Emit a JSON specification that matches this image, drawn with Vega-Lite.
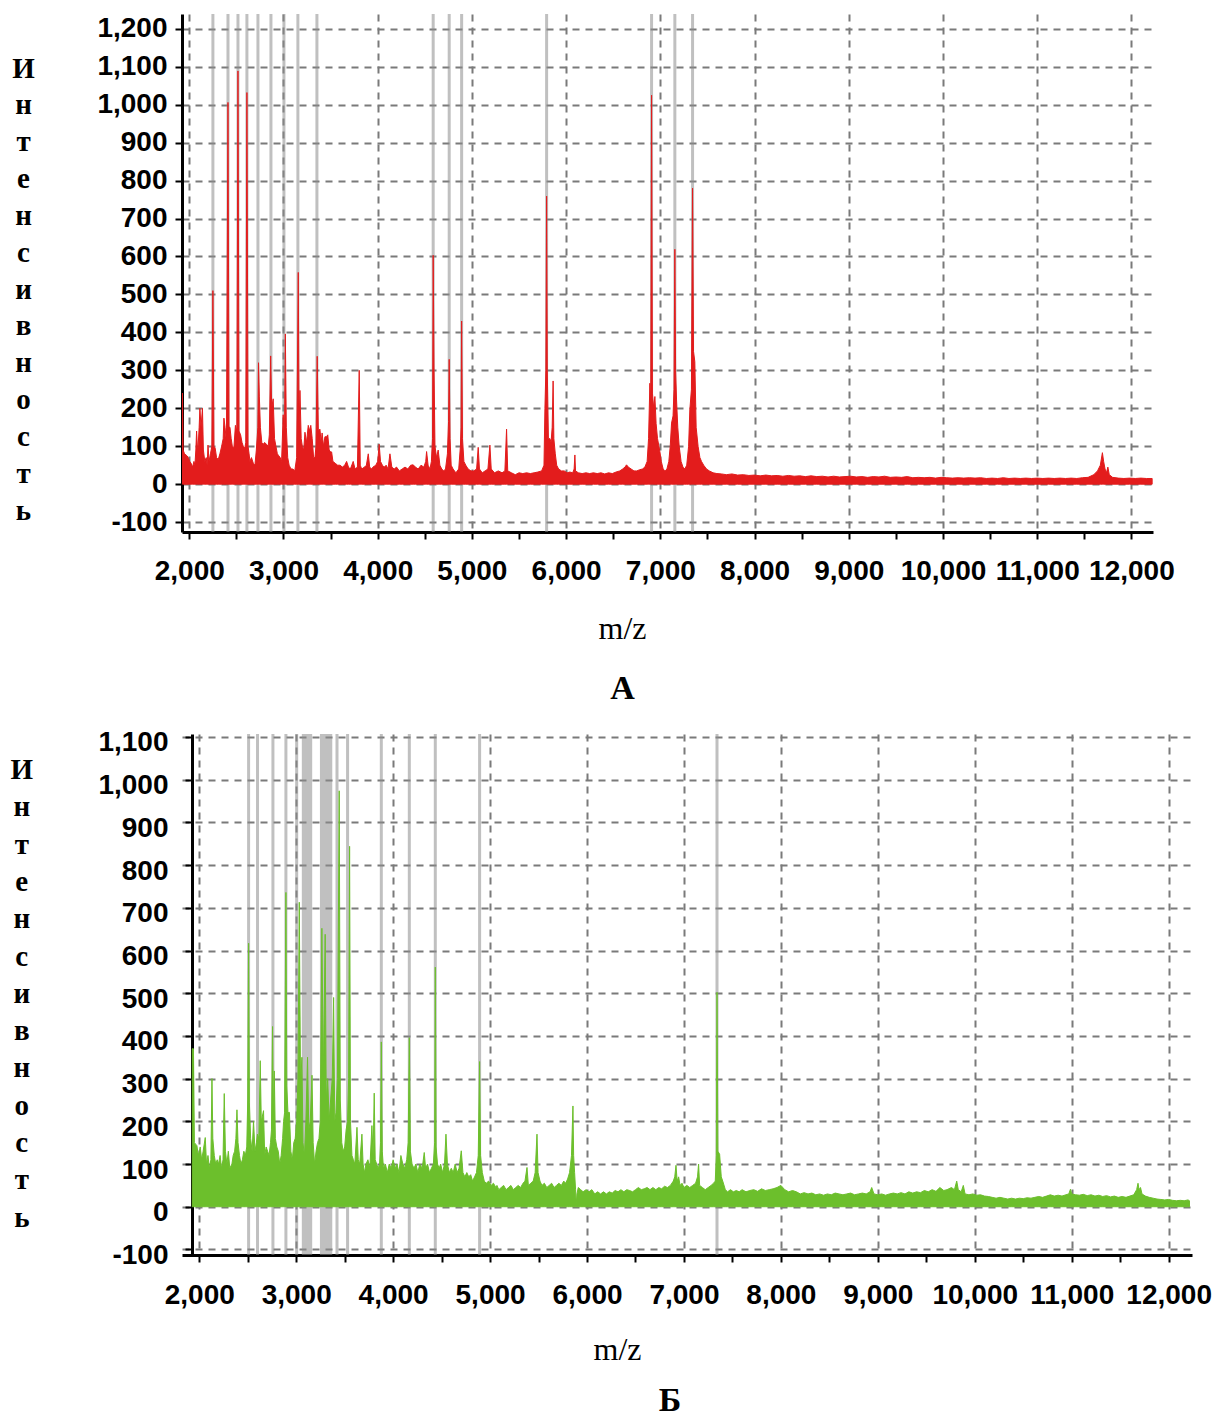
{
"$schema": "https://vega.github.io/schema/vega-lite/v6.json",
"background": "white",
"padding": {"left": 10, "top": 12, "right": 5, "bottom": 0},
"config": {
  "view": {"stroke": null},
  "axis": {"labelFont": "Liberation Sans", "labelFontWeight": "bold", "labelFontSize": 28, "labelColor": "#000", "domainColor": "#000", "domainWidth": 3, "tickColor": "#000", "tickWidth": 2, "gridColor": "#7a7a7a", "gridWidth": 2, "gridDash": [7, 6], "labelOverlap": false, "labelFlush": false, "titleColor": "#000"}
},
"datasets": {
  "markA": [{"mz":2251},{"mz":2411},{"mz":2517},{"mz":2612},{"mz":2729},{"mz":2867},{"mz":3005},{"mz":3153},{"mz":3355},{"mz":4589},{"mz":4759},{"mz":4891},{"mz":5793},{"mz":6907},{"mz":7154},{"mz":7342}],
  "markB": [{"mz":2509},{"mz":2601},{"mz":2760},{"mz":2894},{"mz":3005},{"mz":3421},{"mz":3530},{"mz":3878},{"mz":4167},{"mz":4435},{"mz":4892},{"mz":7341}],
  "bandB": [{"start":3058,"end":3165},{"start":3245,"end":3372}],
  "specA": [{"mz":1928,"i":240},{"mz":1935,"i":90},{"mz":1950,"i":80},{"mz":1975,"i":75},{"mz":1990,"i":70},{"mz":2005,"i":60},{"mz":2020,"i":55},{"mz":2035,"i":45},{"mz":2050,"i":60},{"mz":2060,"i":50},{"mz":2070,"i":90},{"mz":2078,"i":140},{"mz":2090,"i":80},{"mz":2105,"i":150},{"mz":2113,"i":200},{"mz":2125,"i":150},{"mz":2140,"i":200},{"mz":2150,"i":90},{"mz":2165,"i":60},{"mz":2180,"i":70},{"mz":2190,"i":50},{"mz":2199,"i":103},{"mz":2210,"i":60},{"mz":2225,"i":80},{"mz":2240,"i":100},{"mz":2251,"i":510},{"mz":2262,"i":100},{"mz":2275,"i":95},{"mz":2290,"i":70},{"mz":2308,"i":65},{"mz":2325,"i":80},{"mz":2344,"i":100},{"mz":2360,"i":120},{"mz":2368,"i":174},{"mz":2380,"i":150},{"mz":2395,"i":110},{"mz":2411,"i":1006},{"mz":2422,"i":150},{"mz":2432,"i":150},{"mz":2445,"i":120},{"mz":2460,"i":95},{"mz":2475,"i":100},{"mz":2490,"i":155},{"mz":2505,"i":140},{"mz":2517,"i":1089},{"mz":2528,"i":140},{"mz":2545,"i":130},{"mz":2560,"i":110},{"mz":2573,"i":100},{"mz":2590,"i":95},{"mz":2600,"i":110},{"mz":2612,"i":1032},{"mz":2624,"i":100},{"mz":2635,"i":80},{"mz":2644,"i":60},{"mz":2660,"i":70},{"mz":2680,"i":55},{"mz":2697,"i":50},{"mz":2712,"i":90},{"mz":2728,"i":150},{"mz":2735,"i":320},{"mz":2744,"i":230},{"mz":2755,"i":150},{"mz":2770,"i":110},{"mz":2785,"i":105},{"mz":2800,"i":110},{"mz":2820,"i":105},{"mz":2838,"i":100},{"mz":2850,"i":130},{"mz":2864,"i":338},{"mz":2875,"i":200},{"mz":2891,"i":225},{"mz":2905,"i":120},{"mz":2920,"i":100},{"mz":2935,"i":80},{"mz":2950,"i":75},{"mz":2965,"i":70},{"mz":2980,"i":60},{"mz":2997,"i":183},{"mz":3010,"i":110},{"mz":3020,"i":396},{"mz":3030,"i":150},{"mz":3045,"i":70},{"mz":3060,"i":50},{"mz":3080,"i":40},{"mz":3100,"i":40},{"mz":3120,"i":35},{"mz":3140,"i":70},{"mz":3157,"i":558},{"mz":3166,"i":150},{"mz":3175,"i":247},{"mz":3188,"i":120},{"mz":3200,"i":100},{"mz":3215,"i":90},{"mz":3228,"i":137},{"mz":3245,"i":110},{"mz":3263,"i":155},{"mz":3278,"i":140},{"mz":3290,"i":155},{"mz":3305,"i":120},{"mz":3320,"i":70},{"mz":3334,"i":70},{"mz":3345,"i":100},{"mz":3358,"i":337},{"mz":3370,"i":140},{"mz":3387,"i":145},{"mz":3400,"i":110},{"mz":3410,"i":135},{"mz":3425,"i":100},{"mz":3440,"i":125},{"mz":3458,"i":125},{"mz":3470,"i":130},{"mz":3485,"i":90},{"mz":3500,"i":85},{"mz":3511,"i":85},{"mz":3525,"i":60},{"mz":3550,"i":55},{"mz":3575,"i":50},{"mz":3600,"i":50},{"mz":3625,"i":45},{"mz":3650,"i":50},{"mz":3670,"i":60},{"mz":3690,"i":45},{"mz":3710,"i":40},{"mz":3740,"i":60},{"mz":3760,"i":40},{"mz":3785,"i":45},{"mz":3804,"i":300},{"mz":3815,"i":50},{"mz":3830,"i":40},{"mz":3860,"i":45},{"mz":3880,"i":50},{"mz":3900,"i":80},{"mz":3915,"i":45},{"mz":3935,"i":40},{"mz":3950,"i":45},{"mz":3980,"i":50},{"mz":4000,"i":60},{"mz":4016,"i":105},{"mz":4030,"i":60},{"mz":4050,"i":50},{"mz":4070,"i":45},{"mz":4090,"i":50},{"mz":4110,"i":40},{"mz":4130,"i":80},{"mz":4150,"i":45},{"mz":4175,"i":40},{"mz":4200,"i":45},{"mz":4230,"i":35},{"mz":4260,"i":40},{"mz":4290,"i":45},{"mz":4320,"i":40},{"mz":4350,"i":50},{"mz":4377,"i":51},{"mz":4400,"i":45},{"mz":4430,"i":40},{"mz":4460,"i":50},{"mz":4490,"i":45},{"mz":4510,"i":60},{"mz":4519,"i":86},{"mz":4535,"i":50},{"mz":4555,"i":40},{"mz":4570,"i":60},{"mz":4582,"i":120},{"mz":4589,"i":603},{"mz":4598,"i":300},{"mz":4608,"i":100},{"mz":4625,"i":70},{"mz":4642,"i":90},{"mz":4660,"i":50},{"mz":4680,"i":40},{"mz":4700,"i":35},{"mz":4720,"i":40},{"mz":4740,"i":80},{"mz":4752,"i":165},{"mz":4759,"i":329},{"mz":4768,"i":120},{"mz":4780,"i":50},{"mz":4800,"i":40},{"mz":4830,"i":30},{"mz":4860,"i":40},{"mz":4878,"i":100},{"mz":4885,"i":150},{"mz":4891,"i":430},{"mz":4900,"i":120},{"mz":4915,"i":60},{"mz":4935,"i":50},{"mz":4960,"i":40},{"mz":4990,"i":35},{"mz":5020,"i":35},{"mz":5050,"i":40},{"mz":5067,"i":97},{"mz":5080,"i":40},{"mz":5110,"i":30},{"mz":5140,"i":35},{"mz":5170,"i":40},{"mz":5191,"i":103},{"mz":5205,"i":40},{"mz":5240,"i":30},{"mz":5280,"i":35},{"mz":5320,"i":30},{"mz":5350,"i":35},{"mz":5368,"i":145},{"mz":5380,"i":35},{"mz":5420,"i":30},{"mz":5460,"i":25},{"mz":5500,"i":30},{"mz":5540,"i":28},{"mz":5580,"i":30},{"mz":5620,"i":28},{"mz":5660,"i":30},{"mz":5700,"i":32},{"mz":5740,"i":35},{"mz":5765,"i":50},{"mz":5775,"i":200},{"mz":5785,"i":300},{"mz":5793,"i":759},{"mz":5800,"i":300},{"mz":5812,"i":120},{"mz":5828,"i":120},{"mz":5840,"i":110},{"mz":5852,"i":150},{"mz":5862,"i":272},{"mz":5870,"i":120},{"mz":5885,"i":80},{"mz":5900,"i":50},{"mz":5920,"i":40},{"mz":5950,"i":35},{"mz":5980,"i":35},{"mz":6010,"i":30},{"mz":6040,"i":32},{"mz":6070,"i":30},{"mz":6085,"i":40},{"mz":6093,"i":77},{"mz":6100,"i":35},{"mz":6130,"i":30},{"mz":6170,"i":28},{"mz":6210,"i":30},{"mz":6250,"i":28},{"mz":6290,"i":30},{"mz":6330,"i":28},{"mz":6370,"i":30},{"mz":6410,"i":27},{"mz":6450,"i":30},{"mz":6490,"i":28},{"mz":6530,"i":32},{"mz":6570,"i":35},{"mz":6600,"i":40},{"mz":6625,"i":45},{"mz":6641,"i":51},{"mz":6660,"i":45},{"mz":6690,"i":40},{"mz":6720,"i":35},{"mz":6750,"i":35},{"mz":6780,"i":38},{"mz":6810,"i":40},{"mz":6836,"i":45},{"mz":6860,"i":60},{"mz":6875,"i":120},{"mz":6889,"i":266},{"mz":6898,"i":200},{"mz":6907,"i":1025},{"mz":6916,"i":240},{"mz":6930,"i":200},{"mz":6942,"i":231},{"mz":6955,"i":160},{"mz":6970,"i":120},{"mz":6985,"i":100},{"mz":6995,"i":86},{"mz":7010,"i":60},{"mz":7030,"i":40},{"mz":7050,"i":35},{"mz":7070,"i":40},{"mz":7090,"i":60},{"mz":7105,"i":100},{"mz":7119,"i":161},{"mz":7135,"i":180},{"mz":7145,"i":250},{"mz":7154,"i":619},{"mz":7162,"i":300},{"mz":7172,"i":222},{"mz":7185,"i":150},{"mz":7200,"i":100},{"mz":7220,"i":60},{"mz":7240,"i":45},{"mz":7260,"i":40},{"mz":7280,"i":50},{"mz":7300,"i":100},{"mz":7313,"i":196},{"mz":7330,"i":250},{"mz":7342,"i":780},{"mz":7352,"i":350},{"mz":7366,"i":323},{"mz":7380,"i":150},{"mz":7401,"i":99},{"mz":7420,"i":70},{"mz":7437,"i":60},{"mz":7460,"i":50},{"mz":7490,"i":40},{"mz":7520,"i":35},{"mz":7560,"i":30},{"mz":7600,"i":28},{"mz":7650,"i":27},{"mz":7700,"i":25},{"mz":7760,"i":27},{"mz":7820,"i":24},{"mz":7880,"i":25},{"mz":7940,"i":23},{"mz":8000,"i":24},{"mz":8060,"i":22},{"mz":8120,"i":24},{"mz":8180,"i":22},{"mz":8240,"i":23},{"mz":8300,"i":21},{"mz":8360,"i":23},{"mz":8420,"i":21},{"mz":8480,"i":22},{"mz":8540,"i":20},{"mz":8600,"i":22},{"mz":8660,"i":20},{"mz":8720,"i":21},{"mz":8780,"i":19},{"mz":8840,"i":21},{"mz":8900,"i":19},{"mz":8960,"i":20},{"mz":9020,"i":21},{"mz":9080,"i":19},{"mz":9140,"i":20},{"mz":9200,"i":18},{"mz":9260,"i":20},{"mz":9320,"i":19},{"mz":9380,"i":21},{"mz":9440,"i":18},{"mz":9500,"i":19},{"mz":9560,"i":18},{"mz":9620,"i":20},{"mz":9680,"i":17},{"mz":9740,"i":18},{"mz":9800,"i":17},{"mz":9860,"i":18},{"mz":9920,"i":16},{"mz":9980,"i":18},{"mz":10040,"i":17},{"mz":10100,"i":16},{"mz":10160,"i":17},{"mz":10220,"i":16},{"mz":10280,"i":17},{"mz":10340,"i":16},{"mz":10400,"i":17},{"mz":10460,"i":15},{"mz":10520,"i":16},{"mz":10580,"i":15},{"mz":10640,"i":17},{"mz":10700,"i":15},{"mz":10760,"i":16},{"mz":10820,"i":15},{"mz":10880,"i":16},{"mz":10940,"i":15},{"mz":11000,"i":16},{"mz":11060,"i":15},{"mz":11120,"i":16},{"mz":11180,"i":15},{"mz":11240,"i":16},{"mz":11300,"i":15},{"mz":11360,"i":16},{"mz":11420,"i":15},{"mz":11480,"i":17},{"mz":11540,"i":18},{"mz":11600,"i":25},{"mz":11640,"i":35},{"mz":11670,"i":50},{"mz":11692,"i":83},{"mz":11705,"i":60},{"mz":11720,"i":40},{"mz":11735,"i":30},{"mz":11750,"i":45},{"mz":11765,"i":25},{"mz":11800,"i":18},{"mz":11860,"i":16},{"mz":11920,"i":15},{"mz":11980,"i":16},{"mz":12040,"i":15},{"mz":12100,"i":16},{"mz":12160,"i":15},{"mz":12220,"i":15}],
  "specB": [{"mz":1928,"i":370},{"mz":1940,"i":370},{"mz":1950,"i":150},{"mz":1976,"i":143},{"mz":1990,"i":120},{"mz":2010,"i":140},{"mz":2025,"i":110},{"mz":2040,"i":130},{"mz":2062,"i":162},{"mz":2075,"i":100},{"mz":2090,"i":120},{"mz":2105,"i":90},{"mz":2120,"i":110},{"mz":2131,"i":300},{"mz":2140,"i":160},{"mz":2155,"i":120},{"mz":2170,"i":100},{"mz":2185,"i":110},{"mz":2199,"i":100},{"mz":2215,"i":120},{"mz":2230,"i":90},{"mz":2245,"i":110},{"mz":2258,"i":265},{"mz":2270,"i":130},{"mz":2285,"i":100},{"mz":2300,"i":130},{"mz":2315,"i":90},{"mz":2337,"i":100},{"mz":2350,"i":120},{"mz":2365,"i":130},{"mz":2378,"i":160},{"mz":2389,"i":227},{"mz":2400,"i":150},{"mz":2415,"i":120},{"mz":2430,"i":100},{"mz":2445,"i":110},{"mz":2460,"i":130},{"mz":2475,"i":120},{"mz":2490,"i":140},{"mz":2500,"i":250},{"mz":2509,"i":617},{"mz":2517,"i":245},{"mz":2530,"i":160},{"mz":2545,"i":130},{"mz":2560,"i":200},{"mz":2575,"i":130},{"mz":2590,"i":150},{"mz":2600,"i":170},{"mz":2615,"i":160},{"mz":2629,"i":342},{"mz":2640,"i":200},{"mz":2663,"i":225},{"mz":2675,"i":120},{"mz":2690,"i":140},{"mz":2705,"i":130},{"mz":2720,"i":120},{"mz":2735,"i":150},{"mz":2745,"i":180},{"mz":2756,"i":422},{"mz":2766,"i":200},{"mz":2774,"i":318},{"mz":2785,"i":160},{"mz":2800,"i":140},{"mz":2815,"i":130},{"mz":2830,"i":100},{"mz":2845,"i":120},{"mz":2860,"i":160},{"mz":2870,"i":200},{"mz":2880,"i":220},{"mz":2894,"i":736},{"mz":2903,"i":283},{"mz":2915,"i":220},{"mz":2930,"i":221},{"mz":2945,"i":130},{"mz":2960,"i":110},{"mz":2975,"i":150},{"mz":2990,"i":160},{"mz":3005,"i":200},{"mz":3018,"i":300},{"mz":3032,"i":713},{"mz":3045,"i":280},{"mz":3059,"i":350},{"mz":3070,"i":150},{"mz":3085,"i":120},{"mz":3100,"i":200},{"mz":3117,"i":350},{"mz":3130,"i":180},{"mz":3145,"i":200},{"mz":3163,"i":308},{"mz":3175,"i":150},{"mz":3190,"i":100},{"mz":3205,"i":130},{"mz":3220,"i":150},{"mz":3235,"i":160},{"mz":3248,"i":200},{"mz":3265,"i":652},{"mz":3280,"i":300},{"mz":3299,"i":638},{"mz":3310,"i":250},{"mz":3325,"i":300},{"mz":3340,"i":200},{"mz":3355,"i":250},{"mz":3372,"i":300},{"mz":3386,"i":490},{"mz":3398,"i":200},{"mz":3410,"i":220},{"mz":3425,"i":300},{"mz":3444,"i":974},{"mz":3455,"i":250},{"mz":3470,"i":150},{"mz":3485,"i":130},{"mz":3500,"i":140},{"mz":3515,"i":180},{"mz":3530,"i":200},{"mz":3541,"i":300},{"mz":3551,"i":844},{"mz":3560,"i":200},{"mz":3575,"i":120},{"mz":3590,"i":110},{"mz":3605,"i":100},{"mz":3627,"i":186},{"mz":3640,"i":110},{"mz":3655,"i":100},{"mz":3678,"i":170},{"mz":3690,"i":100},{"mz":3705,"i":80},{"mz":3720,"i":100},{"mz":3740,"i":110},{"mz":3760,"i":90},{"mz":3781,"i":190},{"mz":3793,"i":120},{"mz":3805,"i":266},{"mz":3815,"i":110},{"mz":3830,"i":100},{"mz":3845,"i":90},{"mz":3860,"i":100},{"mz":3870,"i":150},{"mz":3878,"i":386},{"mz":3888,"i":130},{"mz":3900,"i":90},{"mz":3920,"i":100},{"mz":3940,"i":80},{"mz":3960,"i":100},{"mz":3980,"i":90},{"mz":4000,"i":110},{"mz":4020,"i":90},{"mz":4040,"i":100},{"mz":4060,"i":80},{"mz":4080,"i":120},{"mz":4100,"i":100},{"mz":4120,"i":90},{"mz":4140,"i":110},{"mz":4155,"i":150},{"mz":4167,"i":396},{"mz":4178,"i":130},{"mz":4195,"i":100},{"mz":4215,"i":90},{"mz":4235,"i":100},{"mz":4255,"i":80},{"mz":4275,"i":100},{"mz":4300,"i":90},{"mz":4321,"i":127},{"mz":4335,"i":90},{"mz":4355,"i":100},{"mz":4375,"i":80},{"mz":4395,"i":90},{"mz":4415,"i":100},{"mz":4428,"i":150},{"mz":4435,"i":561},{"mz":4443,"i":140},{"mz":4458,"i":100},{"mz":4475,"i":90},{"mz":4490,"i":100},{"mz":4510,"i":80},{"mz":4530,"i":100},{"mz":4545,"i":170},{"mz":4560,"i":100},{"mz":4580,"i":80},{"mz":4600,"i":90},{"mz":4620,"i":80},{"mz":4640,"i":100},{"mz":4660,"i":80},{"mz":4680,"i":90},{"mz":4703,"i":131},{"mz":4720,"i":80},{"mz":4740,"i":70},{"mz":4760,"i":80},{"mz":4780,"i":70},{"mz":4800,"i":75},{"mz":4820,"i":60},{"mz":4840,"i":70},{"mz":4860,"i":80},{"mz":4878,"i":120},{"mz":4892,"i":340},{"mz":4902,"i":120},{"mz":4920,"i":80},{"mz":4940,"i":60},{"mz":4960,"i":55},{"mz":4985,"i":60},{"mz":5010,"i":50},{"mz":5035,"i":55},{"mz":5060,"i":45},{"mz":5071,"i":50},{"mz":5090,"i":40},{"mz":5115,"i":45},{"mz":5140,"i":50},{"mz":5165,"i":40},{"mz":5190,"i":45},{"mz":5215,"i":50},{"mz":5240,"i":40},{"mz":5265,"i":45},{"mz":5290,"i":50},{"mz":5315,"i":45},{"mz":5340,"i":55},{"mz":5360,"i":60},{"mz":5381,"i":92},{"mz":5395,"i":50},{"mz":5420,"i":55},{"mz":5445,"i":60},{"mz":5465,"i":80},{"mz":5484,"i":170},{"mz":5495,"i":80},{"mz":5515,"i":60},{"mz":5535,"i":50},{"mz":5560,"i":55},{"mz":5585,"i":45},{"mz":5610,"i":50},{"mz":5635,"i":55},{"mz":5660,"i":45},{"mz":5685,"i":50},{"mz":5710,"i":55},{"mz":5735,"i":50},{"mz":5760,"i":60},{"mz":5780,"i":55},{"mz":5800,"i":65},{"mz":5820,"i":80},{"mz":5840,"i":120},{"mz":5855,"i":236},{"mz":5862,"i":120},{"mz":5872,"i":80},{"mz":5882,"i":40},{"mz":5889,"i":5},{"mz":5896,"i":30},{"mz":5910,"i":45},{"mz":5935,"i":40},{"mz":5960,"i":35},{"mz":5990,"i":40},{"mz":6020,"i":35},{"mz":6050,"i":40},{"mz":6080,"i":30},{"mz":6110,"i":35},{"mz":6140,"i":30},{"mz":6170,"i":35},{"mz":6200,"i":30},{"mz":6230,"i":35},{"mz":6260,"i":32},{"mz":6290,"i":38},{"mz":6320,"i":35},{"mz":6350,"i":40},{"mz":6380,"i":35},{"mz":6410,"i":40},{"mz":6440,"i":38},{"mz":6470,"i":35},{"mz":6500,"i":40},{"mz":6530,"i":45},{"mz":6560,"i":40},{"mz":6590,"i":42},{"mz":6620,"i":45},{"mz":6650,"i":40},{"mz":6680,"i":45},{"mz":6710,"i":40},{"mz":6740,"i":45},{"mz":6770,"i":42},{"mz":6800,"i":48},{"mz":6830,"i":45},{"mz":6860,"i":50},{"mz":6890,"i":60},{"mz":6905,"i":70},{"mz":6918,"i":97},{"mz":6930,"i":60},{"mz":6945,"i":70},{"mz":6960,"i":50},{"mz":6980,"i":55},{"mz":7000,"i":45},{"mz":7030,"i":50},{"mz":7060,"i":45},{"mz":7090,"i":50},{"mz":7120,"i":55},{"mz":7140,"i":70},{"mz":7151,"i":100},{"mz":7162,"i":50},{"mz":7190,"i":45},{"mz":7220,"i":40},{"mz":7250,"i":45},{"mz":7280,"i":50},{"mz":7305,"i":55},{"mz":7323,"i":60},{"mz":7334,"i":120},{"mz":7341,"i":502},{"mz":7350,"i":130},{"mz":7368,"i":123},{"mz":7385,"i":70},{"mz":7400,"i":60},{"mz":7427,"i":40},{"mz":7450,"i":35},{"mz":7480,"i":40},{"mz":7510,"i":35},{"mz":7540,"i":38},{"mz":7570,"i":35},{"mz":7600,"i":40},{"mz":7640,"i":35},{"mz":7680,"i":38},{"mz":7720,"i":40},{"mz":7760,"i":36},{"mz":7800,"i":42},{"mz":7840,"i":38},{"mz":7880,"i":40},{"mz":7920,"i":42},{"mz":7960,"i":45},{"mz":8000,"i":50},{"mz":8040,"i":40},{"mz":8080,"i":35},{"mz":8120,"i":38},{"mz":8160,"i":35},{"mz":8200,"i":30},{"mz":8240,"i":33},{"mz":8280,"i":30},{"mz":8320,"i":32},{"mz":8360,"i":28},{"mz":8400,"i":30},{"mz":8440,"i":27},{"mz":8480,"i":30},{"mz":8520,"i":28},{"mz":8560,"i":32},{"mz":8600,"i":30},{"mz":8640,"i":28},{"mz":8680,"i":30},{"mz":8720,"i":32},{"mz":8760,"i":28},{"mz":8800,"i":30},{"mz":8840,"i":32},{"mz":8880,"i":30},{"mz":8920,"i":35},{"mz":8937,"i":45},{"mz":8960,"i":30},{"mz":9000,"i":28},{"mz":9040,"i":30},{"mz":9080,"i":27},{"mz":9120,"i":30},{"mz":9160,"i":32},{"mz":9200,"i":30},{"mz":9240,"i":33},{"mz":9280,"i":30},{"mz":9320,"i":35},{"mz":9360,"i":32},{"mz":9400,"i":35},{"mz":9440,"i":33},{"mz":9480,"i":38},{"mz":9520,"i":35},{"mz":9560,"i":40},{"mz":9600,"i":36},{"mz":9640,"i":45},{"mz":9680,"i":38},{"mz":9714,"i":40},{"mz":9760,"i":45},{"mz":9790,"i":40},{"mz":9814,"i":60},{"mz":9830,"i":40},{"mz":9860,"i":35},{"mz":9882,"i":50},{"mz":9900,"i":30},{"mz":9940,"i":28},{"mz":9980,"i":30},{"mz":10020,"i":27},{"mz":10060,"i":28},{"mz":10100,"i":25},{"mz":10140,"i":24},{"mz":10180,"i":22},{"mz":10220,"i":20},{"mz":10260,"i":22},{"mz":10300,"i":20},{"mz":10340,"i":18},{"mz":10380,"i":20},{"mz":10420,"i":18},{"mz":10460,"i":20},{"mz":10500,"i":19},{"mz":10540,"i":21},{"mz":10580,"i":20},{"mz":10620,"i":22},{"mz":10660,"i":24},{"mz":10700,"i":22},{"mz":10740,"i":25},{"mz":10780,"i":28},{"mz":10820,"i":25},{"mz":10860,"i":27},{"mz":10900,"i":25},{"mz":10940,"i":28},{"mz":10970,"i":30},{"mz":10987,"i":41},{"mz":11000,"i":30},{"mz":11040,"i":28},{"mz":11080,"i":27},{"mz":11120,"i":29},{"mz":11160,"i":26},{"mz":11200,"i":28},{"mz":11240,"i":25},{"mz":11280,"i":27},{"mz":11320,"i":24},{"mz":11360,"i":26},{"mz":11400,"i":23},{"mz":11440,"i":25},{"mz":11480,"i":22},{"mz":11520,"i":24},{"mz":11560,"i":22},{"mz":11600,"i":25},{"mz":11640,"i":28},{"mz":11670,"i":40},{"mz":11684,"i":55},{"mz":11695,"i":40},{"mz":11710,"i":45},{"mz":11725,"i":30},{"mz":11760,"i":25},{"mz":11800,"i":22},{"mz":11840,"i":20},{"mz":11880,"i":18},{"mz":11920,"i":17},{"mz":11960,"i":16},{"mz":12000,"i":17},{"mz":12040,"i":15},{"mz":12080,"i":14},{"mz":12120,"i":15},{"mz":12160,"i":14},{"mz":12200,"i":16},{"mz":12215,"i":14}]
},
"concat": [
  {
    "width": 971, "height": 518,
    "title": {"text": "А", "orient": "bottom", "anchor": "middle", "frame": "group", "dx": -45, "offset": 28, "font": "Liberation Serif", "fontSize": 34, "fontWeight": "bold", "color": "#000"},
    "layer": [
      {
        "data": {"name": "markA"},
        "mark": {"type": "rule", "color": "#8c8c8c", "opacity": 0.55, "strokeWidth": 3},
        "encoding": {
          "x": {"field": "mz", "type": "quantitative",
            "scale": {"domain": [1923, 12229], "nice": false, "zero": false},
            "axis": {
              "values": [2000,2250,2500,2750,3000,3250,3500,3750,4000,4250,4500,4750,5000,5250,5500,5750,6000,6250,6500,6750,7000,7250,7500,7750,8000,8250,8500,8750,9000,9250,9500,9750,10000,10250,10500,10750,11000,11250,11500,11750,12000],
              "labelExpr": "datum.value % 1000 === 0 ? format(datum.value, ',') : ''",
              "gridOpacity": {"condition": {"test": "datum.value % 1000 !== 0", "value": 0}, "value": 1},
              "tickSize": 7, "labelPadding": 18,
              "title": "m/z", "titleFont": "Liberation Serif", "titleFontWeight": "normal", "titleFontSize": 32,
              "titleX": 440, "titleY": 106, "titleAlign": "center", "titleBaseline": "alphabetic"
            }
          }
        }
      },
      {
        "data": {"name": "specA"},
        "mark": {"type": "area", "interpolate": "linear", "color": "#e31c1c", "stroke": "#e31c1c", "strokeWidth": 1, "clip": true},
        "encoding": {
          "x": {"field": "mz", "type": "quantitative", "scale": {"domain": [1923, 12229], "nice": false, "zero": false}},
          "y": {"field": "i", "type": "quantitative",
            "scale": {"domain": [-126, 1239], "nice": false, "zero": false},
            "axis": {
              "values": [-100,0,100,200,300,400,500,600,700,800,900,1000,1100,1200],
              "labelExpr": "datum.value < 0 ? '-' + format(-datum.value, ',') : format(datum.value, ',')",
              "tickSize": 7, "labelPadding": 8,
              "title": ["И","н","т","е","н","с","и","в","н","о","с","т","ь"],
              "titleAngle": 0, "titleAlign": "center", "titleBaseline": "alphabetic", "titleX": -159, "titleY": 63,
              "titleFont": "Liberation Serif", "titleFontWeight": "bold", "titleFontSize": 29, "titleLineHeight": 36.85
            }
          },
          "y2": {"datum": 0}
        }
      }
    ]
  },
  {
    "width": 1010, "height": 521,
    "title": {"text": "Б", "orient": "bottom", "anchor": "middle", "frame": "group", "dx": -17, "offset": 19, "font": "Liberation Serif", "fontSize": 34, "fontWeight": "bold", "color": "#000"},
    "layer": [
      {
        "data": {"name": "markB"},
        "mark": {"type": "rule", "color": "#8c8c8c", "opacity": 0.55, "strokeWidth": 3},
        "encoding": {
          "x": {"field": "mz", "type": "quantitative",
            "scale": {"domain": [1822, 12241], "nice": false, "zero": false},
            "axis": {
              "values": [2000,2250,2500,2750,3000,3250,3500,3750,4000,4250,4500,4750,5000,5250,5500,5750,6000,6250,6500,6750,7000,7250,7500,7750,8000,8250,8500,8750,9000,9250,9500,9750,10000,10250,10500,10750,11000,11250,11500,11750,12000],
              "labelExpr": "datum.value % 1000 === 0 ? format(datum.value, ',') : ''",
              "gridOpacity": {"condition": {"test": "datum.value % 1000 !== 0", "value": 0}, "value": 1},
              "tickSize": 7, "labelPadding": 19,
              "title": "m/z", "titleFont": "Liberation Serif", "titleFontWeight": "normal", "titleFontSize": 32,
              "titleX": 435, "titleY": 104, "titleAlign": "center", "titleBaseline": "alphabetic"
            }
          }
        }
      },
      {
        "data": {"name": "bandB"},
        "mark": {"type": "rect", "color": "#8c8c8c", "opacity": 0.55},
        "encoding": {
          "x": {"field": "start", "type": "quantitative", "scale": {"domain": [1822, 12241], "nice": false, "zero": false}},
          "x2": {"field": "end"}
        }
      },
      {
        "data": {"name": "specB"},
        "mark": {"type": "area", "interpolate": "linear", "color": "#6cbf2c", "stroke": "#6cbf2c", "strokeWidth": 1, "clip": true},
        "encoding": {
          "x": {"field": "mz", "type": "quantitative", "scale": {"domain": [1822, 12241], "nice": false, "zero": false}},
          "y": {"field": "i", "type": "quantitative",
            "scale": {"domain": [-113, 1107], "nice": false, "zero": false},
            "axis": {
              "offset": -10,
              "values": [-100,0,100,200,300,400,500,600,700,800,900,1000,1100],
              "labelExpr": "datum.value < 0 ? '-' + format(-datum.value, ',') : format(datum.value, ',')",
              "tickSize": 7, "labelPadding": 17, "labelOffset": 6,
              "title": ["И","н","т","е","н","с","и","в","н","о","с","т","ь"],
              "titleAngle": 0, "titleAlign": "center", "titleBaseline": "alphabetic", "titleX": -170.7, "titleY": 44.5,
              "titleFont": "Liberation Serif", "titleFontWeight": "bold", "titleFontSize": 29, "titleLineHeight": 37.3
            }
          },
          "y2": {"datum": 0}
        }
      }
    ]
  }
],
"columns": 1,
"align": "none",
"spacing": 22
}
